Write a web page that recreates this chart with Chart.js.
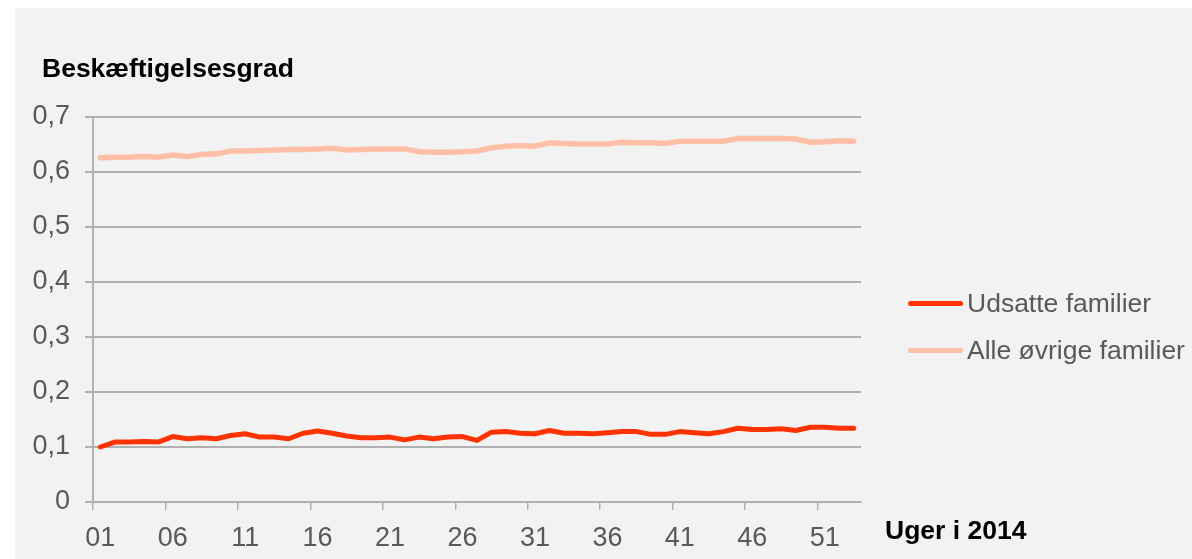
<!DOCTYPE html>
<html>
<head>
<meta charset="utf-8">
<script src="https://cdn.jsdelivr.net/npm/chart.js@4.4.1/dist/chart.umd.min.js"></script>
<style>
  body { margin: 0; background: #fff; font-family: "Liberation Sans", Arial, sans-serif; }
  #panel { position: absolute; left: 15px; top: 8px; width: 1177px; height: 551px; background: #f2f2f2; }
  #wrap { position: absolute; left: 0; top: 0; width: 1192px; height: 559px; }
  .lbl { position: absolute; white-space: nowrap; line-height: 1; }
  .axt { font-weight: bold; font-size: 26.5px; color: #000; }
  .leg { font-size: 26.5px; color: #595959; }
  .sw { position: absolute; width: 55px; height: 5px; border-radius: 3px; }
</style>
</head>
<body>
<div id="panel"></div>
<div id="wrap"><canvas id="myChart" width="1192" height="559"></canvas></div>
<div class="lbl axt" style="left:42px; top:55px;">Beskæftigelsesgrad</div>
<div class="lbl axt" style="left:885px; top:517px;">Uger i 2014</div>
<div id="legend"></div>
<script>
const weeks = ['01','02','03','04','05','06','07','08','09','10',
  '11','12','13','14','15','16','17','18','19','20',
  '21','22','23','24','25','26','27','28','29','30',
  '31','32','33','34','35','36','37','38','39','40',
  '41','42','43','44','45','46','47','48','49','50',
  '51','52','53'];

const udsatte = [0.100,0.109,0.109,0.110,0.109,0.119,0.115,0.117,0.115,0.121,
  0.124,0.118,0.118,0.115,0.125,0.129,0.125,0.120,0.117,0.117,
  0.118,0.113,0.118,0.115,0.118,0.119,0.112,0.127,0.128,0.125,
  0.124,0.130,0.125,0.125,0.124,0.126,0.128,0.128,0.123,0.123,
  0.128,0.126,0.124,0.128,0.134,0.132,0.132,0.133,0.130,0.136,
  0.136,0.134,0.134];

const alleOevrige = [0.626,0.627,0.627,0.628,0.627,0.631,0.628,0.632,0.633,0.638,
  0.638,0.639,0.640,0.641,0.641,0.642,0.643,0.640,0.641,0.642,
  0.642,0.642,0.637,0.636,0.636,0.637,0.638,0.644,0.647,0.648,
  0.647,0.653,0.652,0.651,0.651,0.651,0.654,0.653,0.653,0.652,
  0.656,0.656,0.656,0.656,0.661,0.661,0.661,0.661,0.660,0.654,
  0.655,0.657,0.656];

const yTickLabels = ['0','0,1','0,2','0,3','0,4','0,5','0,6','0,7'];
const seriesNames = ['Udsatte familier', 'Alle øvrige familier'];
const seriesColors = ['#ff3300', '#ffbfa6'];

const gridColor = '#b0b0b0';
const tickFont = { family: '"Liberation Sans", Arial, sans-serif', size: 27 };

const ctx = document.getElementById('myChart');

new Chart(ctx, {
  type: 'line',
  data: {
    labels: weeks,
    datasets: [{
      label: seriesNames[0],
      data: udsatte,
      borderColor: seriesColors[0],
      borderWidth: 5
    }, {
      label: seriesNames[1],
      data: alleOevrige,
      borderColor: seriesColors[1],
      borderWidth: 5.5
    }]
  },
  options: {
    responsive: false,
    animation: false,
    elements: {
      point: { radius: 0 },
      line: { tension: 0, borderCapStyle: 'round', borderJoinStyle: 'round' }
    },
    layout: { padding: { left: 0, top: 117, right: 331, bottom: 0 } },
    plugins: { legend: { display: false }, tooltip: { enabled: false } },
    scales: {
      x: {
        offset: true,
        afterFit: (s) => { s.height = 57; },
        grid: {
          offset: true,
          drawOnChartArea: false,
          drawTicks: true,
          tickLength: 8,
          lineWidth: 1.5,
          color: (c) => (c.index % 5 === 0 ? gridColor : 'rgba(0,0,0,0)')
        },
        border: { display: true, color: gridColor, width: 2 },
        ticks: {
          autoSkip: false,
          maxRotation: 0,
          padding: 12,
          color: '#595959',
          font: tickFont,
          callback: (v, i) => (i % 5 === 0 ? weeks[i] : '')
        }
      },
      y: {
        min: 0,
        max: 0.7,
        afterFit: (s) => { s.width = 93; },
        grid: { color: gridColor, lineWidth: 2, drawTicks: true, tickLength: 8 },
        border: { display: true, color: gridColor, width: 2 },
        ticks: {
          stepSize: 0.1,
          padding: 15,
          color: '#595959',
          font: tickFont,
          callback: (v, i) => yTickLabels[i]
        }
      }
    }
  }
});

// legend built from the same series names and colours
const legend = document.getElementById('legend');
const legendY = [303, 350];
seriesNames.forEach((name, i) => {
  const sw = document.createElement('div');
  sw.className = 'sw';
  sw.style.left = '908px';
  sw.style.top = (legendY[i] - 2.5) + 'px';
  sw.style.background = seriesColors[i];
  legend.appendChild(sw);
  const t = document.createElement('div');
  t.className = 'lbl leg';
  t.style.left = '967px';
  t.style.top = (legendY[i] - 13) + 'px';
  t.textContent = name;
  legend.appendChild(t);
});
</script>
</body>
</html>
